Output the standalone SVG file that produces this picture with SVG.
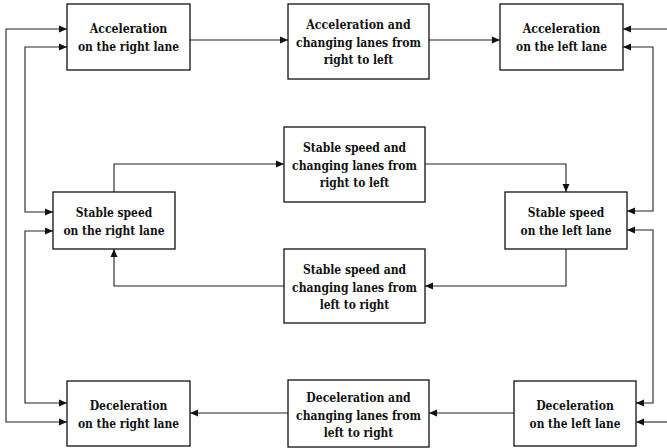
<svg xmlns="http://www.w3.org/2000/svg" width="667" height="448" viewBox="0 0 667 448">
<style>
.box{fill:#fff;stroke:#111;stroke-width:1.3}
.t{font-family:"DejaVu Serif Condensed","DejaVu Serif",serif;font-weight:bold;font-size:13px;fill:#111;text-anchor:middle}
.c{fill:none;stroke:#222;stroke-width:1.1}
</style>
<defs>
<marker id="ah" markerUnits="userSpaceOnUse" markerWidth="9" markerHeight="8" refX="8" refY="4" orient="auto">
<path d="M0,0.5 L8,4 L0,7.5 Z" fill="#111"/>
</marker>
<marker id="as" markerUnits="userSpaceOnUse" markerWidth="9" markerHeight="8" refX="0" refY="4" orient="auto">
<path d="M8,0.5 L0,4 L8,7.5 Z" fill="#111"/>
</marker>
</defs>
<g id="connectors">
<path class="c" d="M190,40 H288" marker-end="url(#ah)"/>
<path class="c" d="M429,40 H500" marker-end="url(#ah)"/>
<path class="c" d="M114,192 V164 H284" marker-end="url(#ah)"/>
<path class="c" d="M425,164 H566 V192" marker-end="url(#ah)"/>
<path class="c" d="M566,249 V286 H425" marker-end="url(#ah)"/>
<path class="c" d="M284,286 H114 V249" marker-end="url(#ah)"/>
<path class="c" d="M514,413 H429" marker-end="url(#ah)"/>
<path class="c" d="M288,413 H190" marker-end="url(#ah)"/>
<path class="c" d="M67,29 H6 V422 H67" marker-start="url(#as)" marker-end="url(#ah)"/>
<path class="c" d="M67,47 H25 V212 H53" marker-start="url(#as)" marker-end="url(#ah)"/>
<path class="c" d="M53,231 H25 V403 H67" marker-start="url(#as)" marker-end="url(#ah)"/>
<path class="c" d="M667,29 H623" marker-end="url(#ah)"/>
<path class="c" d="M623,47 H653 V211 H627" marker-start="url(#as)" marker-end="url(#ah)"/>
<path class="c" d="M627,230 H653 V403 H636" marker-start="url(#as)" marker-end="url(#ah)"/>
<path class="c" d="M667,422 H636" marker-end="url(#ah)"/>
</g>
<g id="acc-right">
<rect class="box" x="67" y="4" width="123" height="66"/>
<text class="t" x="128.5" y="33" textLength="77.6" lengthAdjust="spacingAndGlyphs">Acceleration</text>
<text class="t" x="128.5" y="51" textLength="101.2" lengthAdjust="spacingAndGlyphs">on the right lane</text>
</g>
<g id="acc-change">
<rect class="box" x="288" y="4" width="141" height="75"/>
<text class="t" x="358.5" y="29" textLength="104.4" lengthAdjust="spacingAndGlyphs">Acceleration and</text>
<text class="t" x="358.5" y="46.5" textLength="124.8" lengthAdjust="spacingAndGlyphs">changing lanes from</text>
<text class="t" x="358.5" y="64" textLength="69.6" lengthAdjust="spacingAndGlyphs">right to left</text>
</g>
<g id="acc-left">
<rect class="box" x="500" y="4" width="123" height="66"/>
<text class="t" x="561.5" y="33" textLength="77.6" lengthAdjust="spacingAndGlyphs">Acceleration</text>
<text class="t" x="561.5" y="51" textLength="90.8" lengthAdjust="spacingAndGlyphs">on the left lane</text>
</g>
<g id="stable-change-rl">
<rect class="box" x="284" y="127" width="141" height="75"/>
<text class="t" x="354.5" y="152" textLength="103.2" lengthAdjust="spacingAndGlyphs">Stable speed and</text>
<text class="t" x="354.5" y="169.5" textLength="124.8" lengthAdjust="spacingAndGlyphs">changing lanes from</text>
<text class="t" x="354.5" y="187" textLength="69.6" lengthAdjust="spacingAndGlyphs">right to left</text>
</g>
<g id="stable-right">
<rect class="box" x="53" y="192" width="122" height="57"/>
<text class="t" x="114" y="216.5" textLength="76.4" lengthAdjust="spacingAndGlyphs">Stable speed</text>
<text class="t" x="114" y="234.5" textLength="101.2" lengthAdjust="spacingAndGlyphs">on the right lane</text>
</g>
<g id="stable-left">
<rect class="box" x="505" y="192" width="122" height="57"/>
<text class="t" x="566" y="216.5" textLength="76.4" lengthAdjust="spacingAndGlyphs">Stable speed</text>
<text class="t" x="566" y="234.5" textLength="90.8" lengthAdjust="spacingAndGlyphs">on the left lane</text>
</g>
<g id="stable-change-lr">
<rect class="box" x="284" y="249" width="141" height="74"/>
<text class="t" x="354.5" y="274" textLength="103.2" lengthAdjust="spacingAndGlyphs">Stable speed and</text>
<text class="t" x="354.5" y="291.5" textLength="124.8" lengthAdjust="spacingAndGlyphs">changing lanes from</text>
<text class="t" x="354.5" y="309" textLength="69.6" lengthAdjust="spacingAndGlyphs">left to right</text>
</g>
<g id="dec-right">
<rect class="box" x="67" y="381" width="123" height="65"/>
<text class="t" x="128.5" y="409.5" textLength="77.6" lengthAdjust="spacingAndGlyphs">Deceleration</text>
<text class="t" x="128.5" y="427.5" textLength="101.2" lengthAdjust="spacingAndGlyphs">on the right lane</text>
</g>
<g id="dec-change">
<rect class="box" x="288" y="380" width="141" height="67"/>
<text class="t" x="358.5" y="402" textLength="104.4" lengthAdjust="spacingAndGlyphs">Deceleration and</text>
<text class="t" x="358.5" y="419.5" textLength="124.8" lengthAdjust="spacingAndGlyphs">changing lanes from</text>
<text class="t" x="358.5" y="437" textLength="69.6" lengthAdjust="spacingAndGlyphs">left to right</text>
</g>
<g id="dec-left">
<rect class="box" x="514" y="381" width="122" height="65"/>
<text class="t" x="575" y="409.5" textLength="77.6" lengthAdjust="spacingAndGlyphs">Deceleration</text>
<text class="t" x="575" y="427.5" textLength="90.8" lengthAdjust="spacingAndGlyphs">on the left lane</text>
</g>
</svg>
